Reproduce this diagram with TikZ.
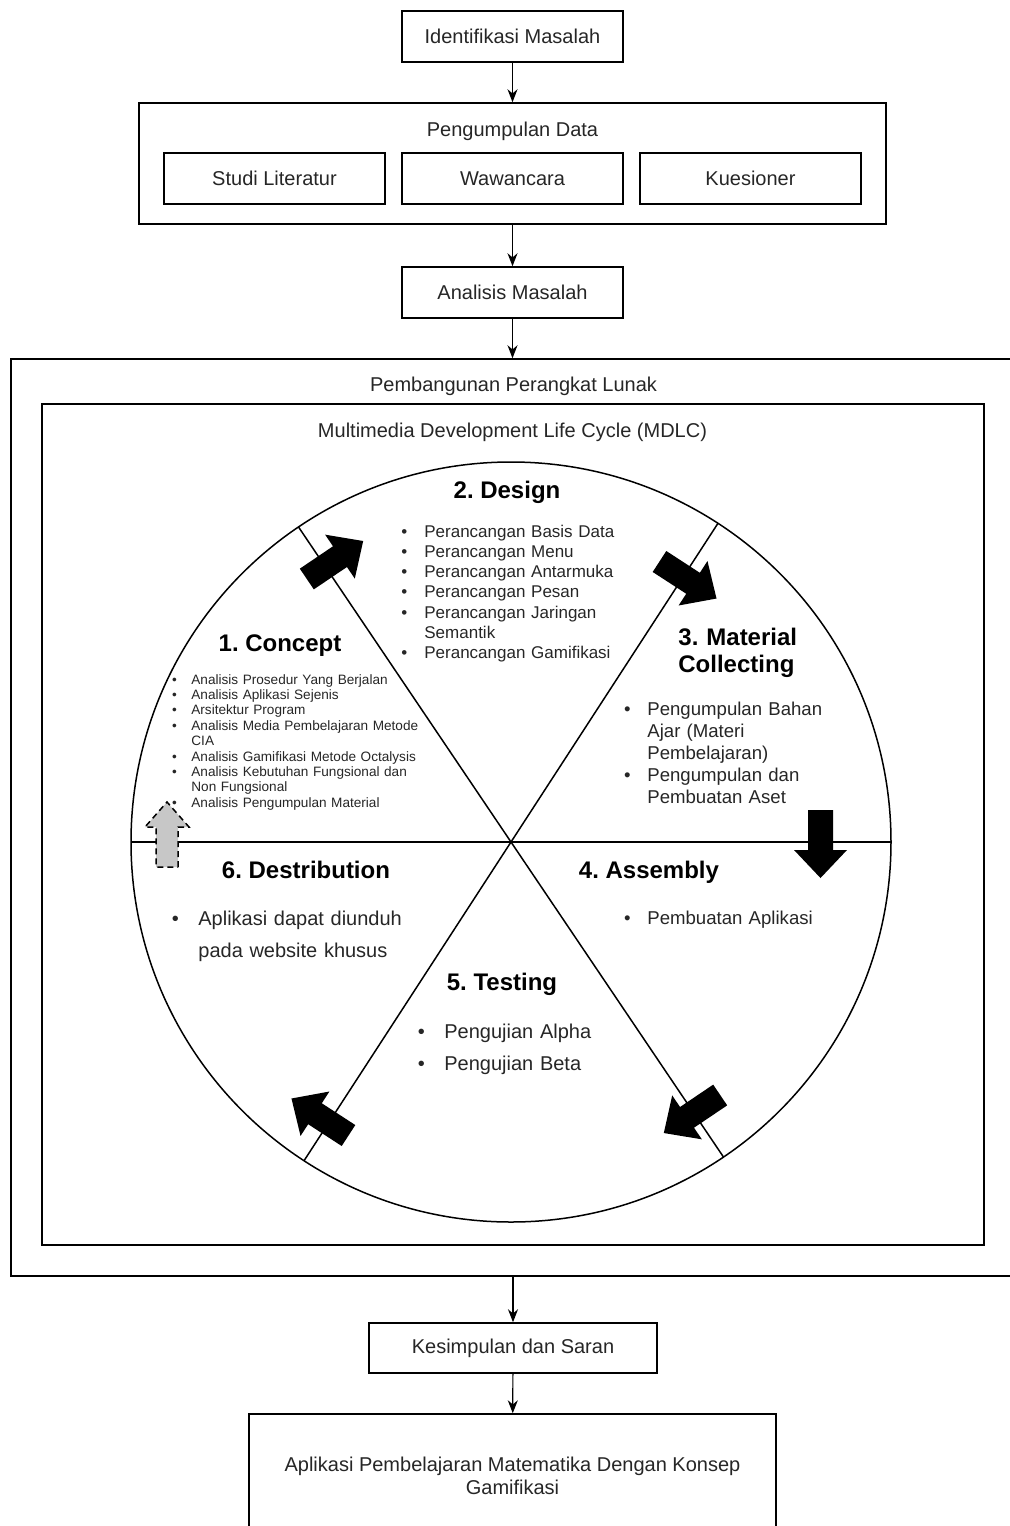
\documentclass[tikz,border=0pt]{standalone}
\usepackage{fontspec}
\setmainfont{Liberation Sans}
\usetikzlibrary{arrows.meta}

\newcommand{\bitem}[2]{\noindent\hangindent=#1\hangafter=1\makebox[#1][l]{\textbullet}#2\par}

\begin{document}
\frenchspacing
\begin{tikzpicture}[x=0.5pt, y=0.5pt,
    box/.style={draw, line width=0.75pt, inner sep=0pt, minimum width=110.5pt, minimum height=25.5pt,
      font=\fontsize{10}{12}\selectfont, text=black!85},
    label/.style={anchor=base, inner sep=0pt, font=\fontsize{10}{12}\selectfont, text=black!85},
    flow/.style={-{Stealth[length=6.5pt,width=5pt]}, line width=0.6pt},
    phase/.style={anchor=base, inner sep=0pt, font=\bfseries\fontsize{12}{13.5}\selectfont},
    steps/.style={anchor=base west, inner sep=0pt, text width=140pt, align=left, text=black!85},
    pics/cyclearrow/.style={code={
      \path[pic actions] (-34,-12.5) -- (6,-12.5) -- (6,-26.5) -- (34,0) -- (6,26.5) -- (6,12.5) -- (-34,12.5) -- cycle;}},
    pics/backarrow/.style={code={
      \path[pic actions] (-32.5,-11) -- (7.5,-11) -- (7.5,-22) -- (32.5,0) -- (7.5,22) -- (7.5,11) -- (-32.5,11) -- cycle;}}
  ]
    \useasboundingbox (0,0) rectangle (1010,-1526);

    % Top of the flow
    \node[box] (idm) at (512.5,-36.5) {Identifikasi Masalah};
    \node[box, minimum width=373.5pt, minimum height=60.5pt] (pd) at (512.5,-163.5) {};
    \node[label] (pdtitle) at (512.5,-136) {Pengumpulan Data};
    \node[box] (studi) at (274.5,-178.5) {Studi Literatur};
    \node[box] (wawan) at (512.5,-178.5) {Wawancara};
    \node[box] (kues) at (750.5,-178.5) {Kuesioner};
    \node[box] (am) at (512.5,-292.5) {Analisis Masalah};

    % Software development frames
    \node[draw, line width=0.75pt, minimum width=510pt, minimum height=458.5pt] (pbl) at (521,-817.5) {};
    \node[label] (pbltitle) at (513.5,-391) {Pembangunan Perangkat Lunak};
    \node[draw, line width=0.75pt, minimum width=471pt, minimum height=420.5pt] (mdlc) at (513,-824.5) {};
    \node[label] (mdlctitle) at (512.5,-437) {Multimedia Development Life Cycle (MDLC)};

    % Bottom of the flow
    \node[box, minimum width=144pt, minimum height=25pt] (kds) at (513,-1348) {Kesimpulan dan Saran};
    \node[box, minimum width=263.5pt, minimum height=62pt, align=center,
      font=\fontsize{10}{11.5}\selectfont] (fin) at (512.5,-1476)
      {Aplikasi Pembelajaran Matematika Dengan Konsep\\Gamifikasi};

    % Draw connectors
    \draw[flow] (idm) -- (pd);
    \draw[flow] (pd) -- (am);
    \draw[flow] (am.south) -- (am.south |- pbl.north);
    \draw[flow] (pbl.south -| kds.north) -- (kds.north);
    \draw[flow] (kds) -- (fin);

    % MDLC cycle
    \coordinate (mc) at (511,-842);
    \draw[line width=0.75pt] (mc) circle (380);
    \foreach \ang in {0,57,124}
      \draw[line width=0.75pt] ([shift={(\ang:380)}]mc) -- ([shift={(\ang+180:380)}]mc);

    % Cycle arrows
    \foreach \ax/\ay/\ang in {335/-560/34, 688/-580/-33, 820.5/-844/-90, 692/-1114/-146, 320/-1117/147}
      \pic[fill=black, rotate=\ang] at (\ax,\ay) {cyclearrow};
    \pic[fill=black!22, draw=black, line width=0.75pt, dash pattern=on 3pt off 2pt, rotate=90] at (167,-834.5) {backarrow};

    % Phase titles
    \node[phase] (concept) at (280,-651.5) {1. Concept};
    \node[phase] (design) at (507,-498.5) {2. Design};
    \node[phase, anchor=base west, text width=100pt, align=left,
      font=\bfseries\fontsize{12}{13.5}\selectfont] (material) at (678,-645.5) {3. Material\\Collecting};
    \node[phase] (assembly) at (649,-878.5) {4. Assembly};
    \node[phase] (testing) at (502,-990.5) {5. Testing};
    \node[phase] (distrib) at (306,-878.5) {6. Destribution};

    % Phase contents
    \node[steps, font=\fontsize{6.8}{7.7}\selectfont] (conceptlist) at (171.6,-684) {%
      \bitem{9.7pt}{Analisis Prosedur Yang Berjalan}
      \bitem{9.7pt}{Analisis Aplikasi Sejenis}
      \bitem{9.7pt}{Arsitektur Program}
      \bitem{9.7pt}{Analisis Media Pembelajaran Metode\newline CIA}
      \bitem{9.7pt}{Analisis Gamifikasi Metode Octalysis}
      \bitem{9.7pt}{Analisis Kebutuhan Fungsional dan\newline Non Fungsional}
      \bitem{9.7pt}{Analisis Pengumpulan Material}};
    \node[steps, font=\fontsize{8.5}{10.15}\selectfont] (designlist) at (401,-537) {%
      \bitem{11.5pt}{Perancangan Basis Data}
      \bitem{11.5pt}{Perancangan Menu}
      \bitem{11.5pt}{Perancangan Antarmuka}
      \bitem{11.5pt}{Perancangan Pesan}
      \bitem{11.5pt}{Perancangan Jaringan\newline Semantik}
      \bitem{11.5pt}{Perancangan Gamifikasi}};
    \node[steps, font=\fontsize{9.3}{11}\selectfont] (materiallist) at (623.7,-715) {%
      \bitem{11.65pt}{Pengumpulan Bahan\newline Ajar (Materi\newline Pembelajaran)}
      \bitem{11.65pt}{Pengumpulan dan\newline Pembuatan Aset}};
    \node[steps, font=\fontsize{9.3}{11}\selectfont] (assemblylist) at (623.7,-924) {%
      \bitem{11.65pt}{Pembuatan Aplikasi}};
    \node[steps, font=\fontsize{10}{16}\selectfont] (testinglist) at (417.5,-1038) {%
      \bitem{13.25pt}{Pengujian Alpha}
      \bitem{13.25pt}{Pengujian Beta}};
    \node[steps, font=\fontsize{10}{16}\selectfont] (distriblist) at (171.5,-925) {%
      \bitem{13.25pt}{Aplikasi dapat diunduh\newline pada website khusus}};

\end{tikzpicture}
\end{document}
